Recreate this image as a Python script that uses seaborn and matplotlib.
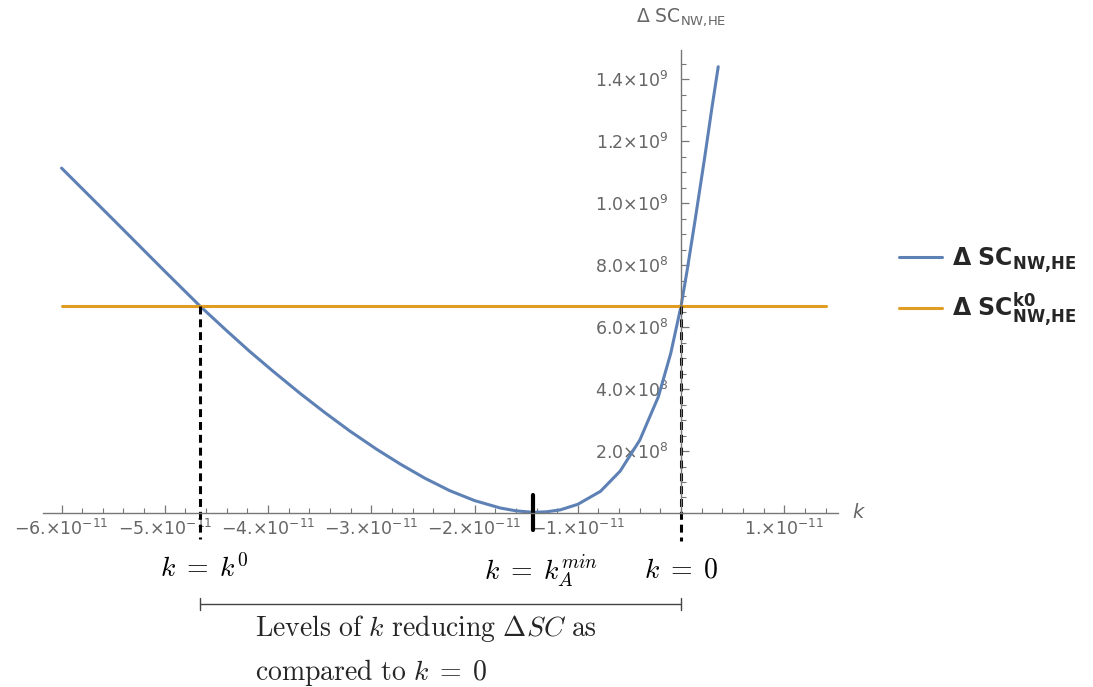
import numpy as np
import pandas as pd
import matplotlib
matplotlib.use("Agg")
import matplotlib.pyplot as plt
import matplotlib.transforms as mtransforms
from matplotlib.ticker import FixedLocator, MultipleLocator, FuncFormatter
import seaborn as sns

# Curve values (k in 1e-11, Delta SC in 1e9)
k_curve = [-6.0, -5.5, -5.0, -4.66, -4.4, -4.18, -3.95, -3.69, -3.45, -3.21,
           -2.95, -2.72, -2.48, -2.24, -2.0, -1.75, -1.6, -1.43, -1.3, -1.17,
           -1.0, -0.78, -0.59, -0.4, -0.22, -0.1, 0.0, 0.06, 0.136, 0.23,
           0.30, 0.36]
sc_curve = [1.113, 0.947, 0.780, 0.668, 0.588, 0.522, 0.457, 0.386, 0.324, 0.265,
            0.206, 0.158, 0.112, 0.072, 0.040, 0.016, 0.007, 0.002, 0.004, 0.010,
            0.028, 0.070, 0.135, 0.235, 0.375, 0.515, 0.668, 0.785, 0.945, 1.15,
            1.31, 1.44]
k_flat = [-6.0, 1.4]
sc_flat = [0.668, 0.668]
k0 = -4.66
k_min = -1.43

x_ticks = [-6, -5, -4, -3, -2, -1, 1]
y_ticks = [0.2, 0.4, 0.6, 0.8, 1.0, 1.2, 1.4]
y_tick_labels = ['2.0', '4.0', '6.0', '8.0', '1.0', '1.2', '1.4']
y_tick_exps = [8, 8, 8, 8, 9, 9, 9]

blue = '#5E81B5'
orange = '#E19C24'
grey = '#666666'

sns.set_style('white')
plt.rcParams['font.family'] = ['DejaVu Sans']
plt.rcParams['mathtext.fontset'] = 'dejavusans'

curve = pd.DataFrame({'k': np.array(k_curve) * 1e-11, 'sc': np.array(sc_curve) * 1e9})
flat = pd.DataFrame({'k': np.array(k_flat) * 1e-11, 'sc': np.array(sc_flat) * 1e9})

fig = plt.figure(figsize=(10.93, 6.87), dpi=100)
ax = fig.add_axes([0.0393, 0.2533, 0.7274, 0.6739])

sns.lineplot(data=curve, x='k', y='sc', color=blue, lw=2.2, ax=ax,
             label=r'$\mathbf{\Delta\ SC_{NW{,}HE}}$', sort=False)
sns.lineplot(data=flat, x='k', y='sc', color=orange, lw=2.2, ax=ax,
             label=r'$\mathbf{\Delta\ SC^{k0}_{NW{,}HE}}$')

ax.set_xlim(-6.18e-11, 1.52e-11)
ax.set_ylim(0, 1.494e9)

for s in ['top', 'right']:
    ax.spines[s].set_visible(False)
ax.spines['left'].set_position(('data', 0))
ax.spines['bottom'].set_position(('data', 0))
for s in ['left', 'bottom']:
    ax.spines[s].set_color('#777777')
    ax.spines[s].set_linewidth(1.0)

ax.xaxis.set_major_locator(FixedLocator([t * 1e-11 for t in x_ticks]))
ax.xaxis.set_minor_locator(MultipleLocator(0.2e-11))
ax.xaxis.set_major_formatter(FuncFormatter(
    lambda v, p: '%s%d.×10$^{-11}$' % ('\u2212' if v < 0 else '', abs(round(v * 1e11)))))
ax.yaxis.set_major_locator(FixedLocator([t * 1e9 for t in y_ticks]))
ax.yaxis.set_minor_locator(MultipleLocator(0.05e9))
ax.set_yticklabels(['%s×10$^{%d}$' % (l, e) for l, e in zip(y_tick_labels, y_tick_exps)])

ax.tick_params(axis='both', which='both', direction='in', colors='#777777',
               labelcolor=grey, labelsize=12.5, bottom=True, left=True)
ax.tick_params(axis='both', which='major', length=6, width=0.9)
ax.tick_params(axis='both', which='minor', length=3.5, width=0.8)
ax.tick_params(axis='x', which='major', pad=4)
ax.tick_params(axis='y', which='major', pad=9)
ax.set_xlabel('')
ax.set_ylabel('')

ax.text(0, 1.6e9, r'$\Delta\ \mathrm{SC}_{\mathrm{NW{,}HE}}$', color=grey, fontsize=13.5,
        ha='center', va='center', clip_on=False)
ax.text(1.72e-11, 0, '$k$', color=grey, fontsize=14, ha='center', va='center', clip_on=False)

# dashed guides and the minimum marker
dash_kw = dict(color='black', lw=2.2, dashes=(2.6, 1.6), clip_on=False)
ax.plot([k0 * 1e-11, k0 * 1e-11], [sc_flat[0] * 1e9, -0.085e9], **dash_kw)
ax.plot([0, 0], [sc_flat[0] * 1e9, -0.09e9], **dash_kw)
ax.plot([k_min * 1e-11, k_min * 1e-11], [0.058e9, -0.055e9], color='black', lw=3, clip_on=False)

# annotations below the axis
tr = mtransforms.blended_transform_factory(ax.transData, fig.transFigure)
ann_kw = dict(transform=tr, fontsize=20, math_fontfamily='cm', color='black', va='center')
ax.text(k0 * 1e-11 + 0.04e-11, 1 - 569 / 687, r'$k\;=\;k^0$', ha='center', **ann_kw)
ax.text(k_min * 1e-11 + 0.07e-11, 1 - 572 / 687, r'$k\;=\;k_A^{min}$', ha='center', **ann_kw)
ax.text(0, 1 - 570 / 687, r'$k\;=\;0$', ha='center', **ann_kw)

yb = 1 - 604 / 687
cap = 6 / 687
ax.plot([k0 * 1e-11, 0], [yb, yb], transform=tr, color='#444444', lw=1, clip_on=False)
ax.plot([k0 * 1e-11, k0 * 1e-11], [yb - cap, yb + cap], transform=tr, color='#444444', lw=1, clip_on=False)
ax.plot([0, 0], [yb - cap, yb + cap], transform=tr, color='#444444', lw=1, clip_on=False)

fig.text(255 / 1093, 1 - 629 / 687,
         r'$\mathrm{Levels\ of\ }k\mathrm{\ reducing\ }\Delta SC\mathrm{\ as}$',
         fontsize=20, math_fontfamily='cm', ha='left', va='center')
fig.text(255 / 1093, 1 - 672 / 687, r'$\mathrm{compared\ to\ }k\;=\;0$',
         fontsize=20, math_fontfamily='cm', ha='left', va='center')

ax.get_legend().remove()
handles, labels = ax.get_legend_handles_labels()
fig.legend(handles, labels, loc='center left', bbox_to_anchor=(878 / 1093, 1 - 287 / 687),
           frameon=False, fontsize=17, handlelength=1.8, labelspacing=0.65, handletextpad=0.45)

fig.savefig('out.png', dpi=100)
